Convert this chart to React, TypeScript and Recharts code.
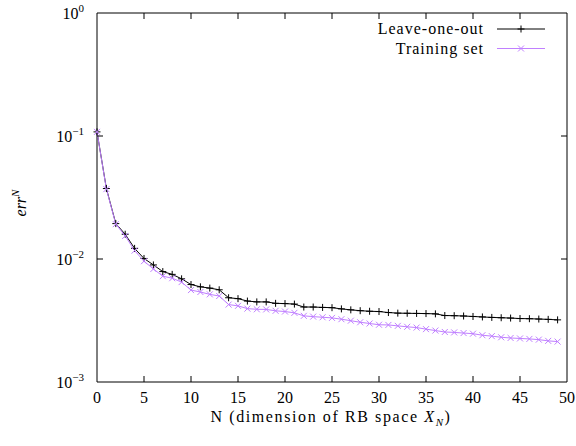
import { Customized, Line, LineChart, ReferenceArea, XAxis, YAxis } from 'recharts';

const N_VALUES = [
  0, 1, 2, 3, 4, 5, 6, 7, 8, 9, 10, 11, 12, 13, 14, 15, 16, 17, 18, 19, 20, 21, 22, 23, 24,
  25, 26, 27, 28, 29, 30, 31, 32, 33, 34, 35, 36, 37, 38, 39, 40, 41, 42, 43, 44, 45, 46, 47, 48, 49
];

const LEAVE_ONE_OUT = [
  0.108, 0.0374, 0.0194, 0.0159, 0.0122, 0.0101, 0.00895, 0.0079, 0.0075, 0.0069,
  0.0062, 0.00594, 0.0058, 0.00562, 0.00484, 0.00476, 0.00455, 0.00448, 0.00448, 0.00436,
  0.00434, 0.0043, 0.00407, 0.00407, 0.00404, 0.00402, 0.00393, 0.00386, 0.0038, 0.00376,
  0.00374, 0.00367, 0.00363, 0.00362, 0.00361, 0.0036, 0.00358, 0.00347, 0.00346, 0.00344,
  0.00341, 0.00338, 0.00335, 0.00333, 0.00331, 0.00328, 0.00327, 0.00325, 0.00323, 0.0032
];

const TRAINING_SET = [
  0.108, 0.037, 0.0192, 0.0154, 0.0117, 0.0096, 0.0083, 0.00725, 0.00698, 0.00649,
  0.00559, 0.00539, 0.00516, 0.005, 0.00426, 0.00416, 0.00395, 0.0039, 0.00389, 0.00379,
  0.00374, 0.00365, 0.00345, 0.0034, 0.00336, 0.00332, 0.00324, 0.00315, 0.00306, 0.00299,
  0.00292, 0.00291, 0.00286, 0.00281, 0.00277, 0.00269, 0.00262, 0.00255, 0.00253, 0.0025,
  0.00247, 0.0024, 0.00236, 0.00231, 0.00228, 0.00226, 0.00224, 0.00221, 0.00216, 0.00213
];

const X_TICKS = [0, 5, 10, 15, 20, 25, 30, 35, 40, 45, 50];
const Y_TICKS = [0.001, 0.01, 0.1, 1];

const SERIES = [
  { key: 'loo', name: 'Leave-one-out', color: '#000000', marker: 'plus' },
  { key: 'train', name: 'Training set', color: '#c080ff', marker: 'cross' }
];

const W = 576;
const H = 446;
const PLOT_LEFT = 97;
const PLOT_RIGHT = 567;
const PLOT_TOP = 13;
const PLOT_BOTTOM = 382;
const TICK = 6;
const FONT_STYLE = {
  fontFamily: "'Liberation Serif', 'Times New Roman', Times, 'DejaVu Serif', serif"
};
const FS = 16;

const data = N_VALUES.map((n, i) => ({ n, loo: LEAVE_ONE_OUT[i], train: TRAINING_SET[i] }));

const Marker = ({ cx, cy, color, kind }: any) => {
  if (cx == null || cy == null) return null;
  const r = 3.5;
  if (kind === 'plus') {
    return (
      <g stroke={color} strokeWidth={1}>
        <line x1={cx - r} y1={cy} x2={cx + r} y2={cy} />
        <line x1={cx} y1={cy - r} x2={cx} y2={cy + r} />
      </g>
    );
  }
  const q = 3;
  return (
    <g stroke={color} strokeWidth={1}>
      <line x1={cx - q} y1={cy - q} x2={cx + q} y2={cy + q} />
      <line x1={cx - q} y1={cy + q} x2={cx + q} y2={cy - q} />
    </g>
  );
};

const XTick = ({ x, y, payload }: any) => {
  const inner = payload.value !== 0 && payload.value !== 50;
  return (
    <g>
      {inner && <line x1={x} y1={PLOT_BOTTOM} x2={x} y2={PLOT_BOTTOM - TICK} stroke="#000" />}
      {inner && <line x1={x} y1={PLOT_TOP} x2={x} y2={PLOT_TOP + TICK} stroke="#000" />}
      <text x={x} y={y + 21} textAnchor="middle" style={FONT_STYLE} fontSize={FS} fill="#000">
        {payload.value}
      </text>
    </g>
  );
};

const YTick = ({ x, y, payload }: any) => {
  const exp = Math.round(Math.log10(payload.value));
  const inner = exp !== 0 && exp !== -3;
  return (
    <g>
      {inner && <line x1={PLOT_LEFT} y1={y} x2={PLOT_LEFT + TICK} y2={y} stroke="#000" />}
      {inner && <line x1={PLOT_RIGHT} y1={y} x2={PLOT_RIGHT - TICK} y2={y} stroke="#000" />}
      <text x={x - 13} y={y + 6} textAnchor="end" style={FONT_STYLE} fontSize={FS} fill="#000">
        10
        <tspan dy={-7} fontSize={11}>
          {exp === 0 ? '0' : '\u2212' + Math.abs(exp)}
        </tspan>
      </text>
    </g>
  );
};

const Decorations = () => (
  <g style={FONT_STYLE} fontSize={FS} fill="#000">
    {SERIES.map((s, i) => {
      const ly = 29 + i * 19.5;
      return (
        <g key={s.key}>
          <text x={484} y={ly + 5} textAnchor="end" letterSpacing={1} style={FONT_STYLE}>
            {s.name}
          </text>
          <line x1={497} y1={ly} x2={545} y2={ly} stroke={s.color} />
          <Marker cx={521} cy={ly} color={s.color} kind={s.marker} />
        </g>
      );
    })}
    <text x={331} y={422} textAnchor="middle" letterSpacing={1.6} style={FONT_STYLE}>
      N (dimension of RB space <tspan fontStyle="italic">X</tspan>
      <tspan fontStyle="italic" fontSize={11} dy={4}>N</tspan>
      <tspan dy={-4}>)</tspan>
    </text>
    <text x={26} y={203} textAnchor="middle" transform="rotate(-90 26 203)" fontStyle="italic" style={FONT_STYLE}>
      err
      <tspan dy={-7} fontSize={11}>N</tspan>
    </text>
  </g>
);

export default function App() {
  return (
    <div style={{ position: 'absolute', left: 0, top: 0, width: W, height: H, background: '#fff' }}>
      <LineChart
        width={W}
        height={H}
        data={data}
        margin={{ top: PLOT_TOP, right: W - PLOT_RIGHT, bottom: H - PLOT_BOTTOM - 30, left: 0 }}
      >
        <XAxis
          dataKey="n"
          type="number"
          domain={[0, 50]}
          ticks={X_TICKS}
          height={30}
          axisLine={false}
          tickLine={false}
          tickSize={0}
          tickMargin={0}
          tick={<XTick />}
          interval={0}
        />
        <YAxis
          scale="log"
          type="number"
          domain={[0.001, 1]}
          ticks={Y_TICKS}
          width={PLOT_LEFT}
          allowDataOverflow
          axisLine={false}
          tickLine={false}
          tickSize={0}
          tickMargin={0}
          tick={<YTick />}
          interval={0}
        />
        <ReferenceArea x1={0} x2={50} y1={0.001} y2={1} fill="none" stroke="#000" strokeWidth={1} />
        {SERIES.map((s) => (
          <Line
            key={s.key}
            dataKey={s.key}
            name={s.name}
            stroke={s.color}
            strokeWidth={1}
            isAnimationActive={false}
            dot={(p: any) => <Marker key={p.index} cx={p.cx} cy={p.cy} color={s.color} kind={s.marker} />}
            activeDot={false}
          />
        ))}
        <Customized component={Decorations} />
      </LineChart>
    </div>
  );
}
